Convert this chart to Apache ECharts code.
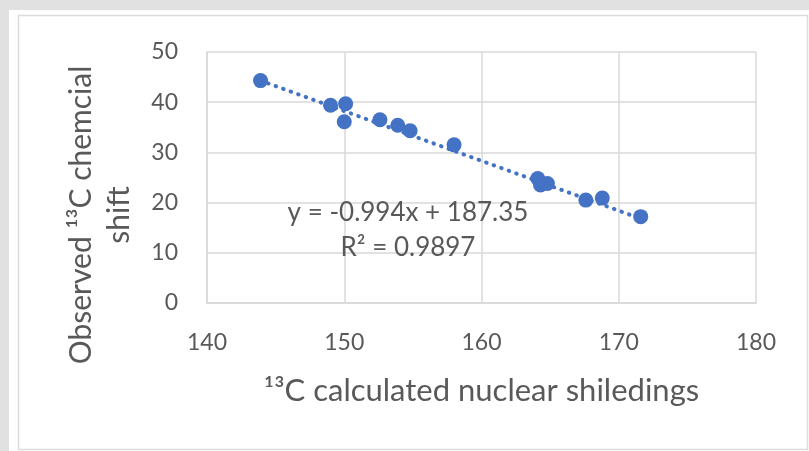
<!DOCTYPE html>
<html>
<head>
<meta charset="utf-8">
<script src="https://cdn.jsdelivr.net/npm/echarts@6/dist/echarts.min.js"></script>
<style>
  html, body { margin: 0; padding: 0; background: #e1e1e1; }
  #chart { width: 809px; height: 451px; }
</style>
</head>
<body>
<div id="chart"></div>
<script>
// observed vs calculated values
var calcShielding = [143.9, 149.0, 150.1, 150.0, 152.6, 153.9, 154.8, 158.0, 164.1, 164.3, 164.8, 167.6, 168.8, 171.6];
var observedShift = [44.3, 39.4, 39.7, 36.1, 36.5, 35.4, 34.3, 31.5, 24.8, 23.5, 23.8, 20.5, 20.9, 17.2];

// linear trendline ends (y = -0.994x + 187.35)
var trendX = [143.9, 171.6];
var trendY = [44.3, 16.8];

var equationText = ['y = -0.994x + 187.35', 'R\u00b2 = 0.9897'];
var xTitle = '\u00b9\u00b3C calculated nuclear shiledings';
var yTitle = ['Observed \u00b9\u00b3C chemcial', 'shift'];

var textColor = '#595959';
var gridColor = '#d9d9d9';
var blue = '#4472c4';
var font = 'Lato';

var pts = [];
for (var i = 0; i < calcShielding.length; i++) {
    pts.push([calcShielding[i], observedShift[i]]);
}
var trend = [];
for (var j = 0; j < trendX.length; j++) {
    trend.push([trendX[j], trendY[j]]);
}

var chart = echarts.init(document.getElementById('chart'));

var option = {
    backgroundColor: '#e1e1e1',
    animation: false,
    graphic: [
        {
            type: 'rect',
            z: -10,
            shape: { x: 9, y: 10, width: 800, height: 441 },
            style: { fill: '#ffffff' }
        },
        {
            type: 'rect',
            z: -9,
            shape: { x: 18.5, y: 15.5, width: 789, height: 434 },
            style: { fill: '#ffffff', stroke: '#dcdcdc', lineWidth: 1.5 }
        },
        {
            type: 'text',
            x: 100,
            y: 215,
            rotation: Math.PI / 2,
            style: {
                text: yTitle.join('\n'),
                fill: textColor,
                font: '30px ' + font,
                align: 'center',
                verticalAlign: 'middle',
                lineHeight: 38
            }
        },
        {
            type: 'text',
            x: 408,
            y: 230,
            z: 10,
            style: {
                text: equationText.join('\n'),
                fill: textColor,
                font: '26px ' + font,
                align: 'center',
                verticalAlign: 'middle',
                lineHeight: 35
            }
        }
    ],
    grid: {
        left: 207,
        right: 53,
        top: 52,
        bottom: 148
    },
    xAxis: {
        type: 'value',
        min: 140,
        max: 180,
        interval: 10,
        name: xTitle,
        nameLocation: 'middle',
        nameGap: 72,
        nameTextStyle: { color: textColor, fontFamily: font, fontSize: 31 },
        axisLine: { show: true, lineStyle: { color: gridColor, width: 1.5 } },
        axisTick: { show: false },
        axisLabel: { color: textColor, fontFamily: font, fontSize: 23, margin: 28 },
        splitLine: { show: true, lineStyle: { color: gridColor, width: 1.5 } }
    },
    yAxis: {
        type: 'value',
        min: 0,
        max: 50,
        interval: 10,
        axisLine: { show: true, lineStyle: { color: gridColor, width: 1.5 } },
        axisTick: { show: false },
        axisLabel: { color: textColor, fontFamily: font, fontSize: 23, margin: 29 },
        splitLine: { show: true, lineStyle: { color: gridColor, width: 1.5 } }
    },
    series: [
        {
            name: 'trend',
            type: 'line',
            data: trend,
            symbol: 'none',
            z: 3,
            lineStyle: { color: blue, width: 4, type: [0.5, 7.5], cap: 'round' }
        },
        {
            name: 'shift',
            type: 'scatter',
            data: pts,
            symbolSize: 15,
            z: 2,
            itemStyle: { color: blue, opacity: 1 }
        }
    ]
};

chart.setOption(option);
</script>
</body>
</html>
